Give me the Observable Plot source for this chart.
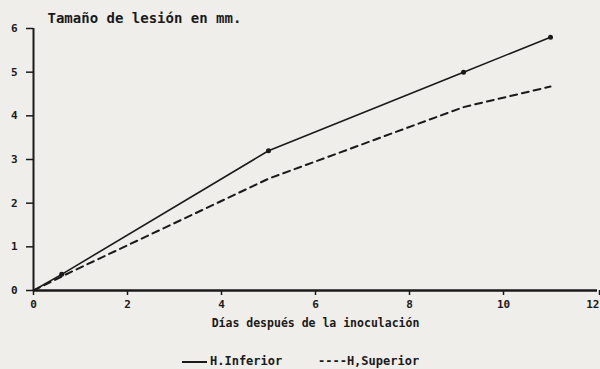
<!DOCTYPE html>
<html>
<head>
<meta charset="utf-8">
<script src="https://cdn.jsdelivr.net/npm/d3@7"></script>
<script src="https://cdn.jsdelivr.net/npm/@observablehq/plot@0.6"></script>
<style>
  html, body { margin: 0; padding: 0; background: #f0eeeb; }
  #wrap { position: relative; width: 600px; height: 369px; overflow: hidden; background: #f0eeeb; }
  .leg { position: absolute; top: 354px; line-height: 14px; font-family: "DejaVu Sans Mono", monospace; font-weight: bold; font-size: 12px; color: #1a1a1a; white-space: pre; }
  .leg .sw { display: inline-block; width: 25px; border-top: 2px solid #1a1a1a; vertical-align: middle; margin-right: 3px; }
</style>
</head>
<body>
<div id="wrap"></div>
<script>
// Data
const daysInferior = [0, 0.6, 5, 9.15, 11];
const sizeInferior = [0, 0.37, 3.2, 5.0, 5.8];
const daysSuperior = [0, 0.75, 5, 9.15, 11];
const sizeSuperior = [0, 0.4, 2.56, 4.2, 4.67];
const xTicks = [0, 2, 4, 6, 8, 10];
const xTickLast = [12];
const yTicks = [0, 1, 2, 3, 4, 5, 6];
const yTitle = "Tamaño de lesión en mm.";
const xTitle = "Días después de la inoculación";
const legendInferior = "H.Inferior";
const legendSuperior = "----H,Superior";

const inferior = daysInferior.map((d, i) => ({day: d, size: sizeInferior[i]}));
const superior = daysSuperior.map((d, i) => ({day: d, size: sizeSuperior[i]}));
const ink = "#1a1a1a";

const chart = Plot.plot({
  width: 600,
  height: 335,
  marginLeft: 33,
  marginRight: 3,
  marginTop: 28,
  marginBottom: 45,
  style: {background: "transparent", fontFamily: "'DejaVu Sans Mono', monospace", fontWeight: "bold", fontSize: "11px", color: ink},
  x: {domain: [0, 12]},
  y: {domain: [0, 6]},
  marks: [
    Plot.axisX({ticks: xTicks, tickSize: 5, tickPadding: 5, label: null, tickFormat: d => String(d), strokeWidth: 1.5}),
    Plot.axisX({ticks: xTickLast, tickSize: 5, tickPadding: 5, label: null, tickFormat: d => String(d), strokeWidth: 1.5, textAnchor: "end", dx: 2}),
    Plot.axisY({ticks: yTicks, tickSize: 7, tickPadding: 9, label: null, tickFormat: d => String(d), strokeWidth: 1.5}),
    Plot.ruleX([0], {stroke: ink, strokeWidth: 2}),
    Plot.ruleY([0], {stroke: ink, strokeWidth: 2.5}),
    Plot.line(inferior, {x: "day", y: "size", stroke: ink, strokeWidth: 1.6}),
    Plot.line(superior, {x: "day", y: "size", stroke: ink, strokeWidth: 2, strokeDasharray: "7,5"}),
    Plot.dot(inferior.filter(d => d.day > 0), {x: "day", y: "size", r: 2.5, fill: ink, stroke: "none"}),
    Plot.text([yTitle], {frameAnchor: "top-left", dx: 14, dy: -6, textAnchor: "start", lineAnchor: "bottom", fontSize: 14, fill: ink}),
    Plot.text([xTitle], {frameAnchor: "bottom", dy: 33, lineAnchor: "middle", fontSize: 11.5, fill: ink})
  ]
});
const wrap = document.getElementById("wrap");
wrap.appendChild(chart);

const l1 = document.createElement("div");
l1.className = "leg";
l1.style.left = "182px";
l1.innerHTML = '<span class="sw"></span>' + legendInferior;
wrap.appendChild(l1);
const l2 = document.createElement("div");
l2.className = "leg";
l2.style.left = "318px";
l2.textContent = legendSuperior;
wrap.appendChild(l2);
</script>
</body>
</html>
